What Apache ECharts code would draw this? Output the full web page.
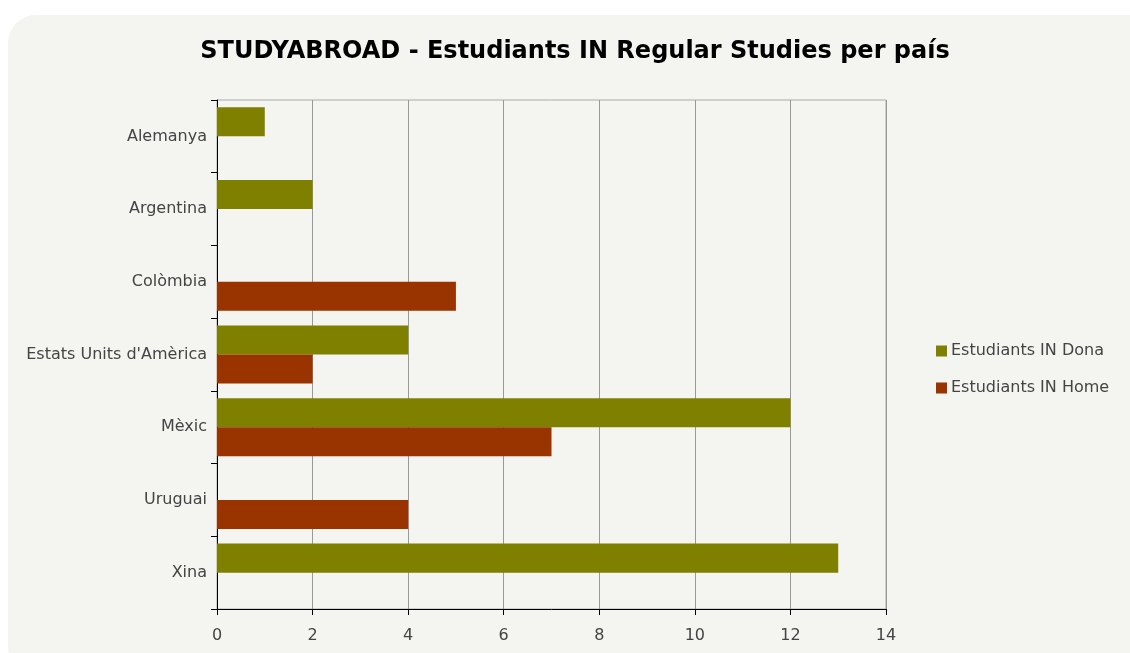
<!DOCTYPE html>
<html>
<head>
<meta charset="utf-8">
<script src="https://cdn.jsdelivr.net/npm/echarts@6/dist/echarts.min.js"></script>
<style>
html,body{margin:0;padding:0;background:#fff;}
#card{position:absolute;left:8px;top:15px;width:1150px;height:660px;background:#f4f4f0;border-radius:28px;}
#main{position:absolute;left:0;top:0;width:1130px;height:653px;}
</style>
</head>
<body>
<div id="card"></div>
<div id="main"></div>
<script>
var paisos = ['Alemanya', 'Argentina', 'Colòmbia', "Estats Units d'Amèrica", 'Mèxic', 'Uruguai', 'Xina'];
var dona = [1, 2, 0, 4, 12, 0, 13];
var home = [0, 0, 5, 2, 7, 4, 0];
var nomDona = 'Estudiants IN Dona';
var nomHome = 'Estudiants IN Home';

var myChart = echarts.init(document.getElementById('main'));
var font = 'DejaVu Sans';
var option = {
	animation: false,
	textStyle: {fontFamily: font},
	title: {
		text: 'STUDYABROAD - Estudiants IN Regular Studies per país',
		left: 570,
		textAlign: 'center',
		top: 35,
		textStyle: {fontSize: 24, fontWeight: 'bold', color: '#000', fontFamily: font}
	},
	legend: {
		orient: 'vertical',
		left: 931,
		top: 338,
		itemWidth: 11,
		itemHeight: 11,
		itemGap: 21,
		icon: 'rect',
		textStyle: {fontSize: 16, color: '#444', padding: [0, 0, 0, -1]},
		data: [nomDona, nomHome]
	},
	grid: {
		left: 217, right: 244, top: 100, bottom: 44,
		show: true, borderColor: '#aaa', borderWidth: 1, backgroundColor: 'transparent'
	},
	xAxis: {
		type: 'value',
		min: 0, max: 14, interval: 2,
		axisLine: {show: true, lineStyle: {color: '#000'}},
		axisTick: {show: true, length: 6, lineStyle: {color: '#000'}},
		axisLabel: {fontSize: 16, color: '#444', margin: 19},
		splitLine: {show: true, lineStyle: {color: '#999'}}
	},
	yAxis: {
		type: 'category',
		inverse: true,
		data: paisos,
		axisLine: {show: true, lineStyle: {color: '#000'}},
		axisTick: {show: true, length: 6, lineStyle: {color: '#000'}},
		axisLabel: {fontSize: 16, color: '#444', margin: 10},
		splitLine: {show: false}
	},
	series: [
		{name: nomDona, type: 'bar', data: dona, barGap: '0%', barCategoryGap: '20%', itemStyle: {color: '#808000'}},
		{name: nomHome, type: 'bar', data: home, barGap: '0%', barCategoryGap: '20%', itemStyle: {color: '#993300'}}
	]
};
myChart.setOption(option);
</script>
</body>
</html>
